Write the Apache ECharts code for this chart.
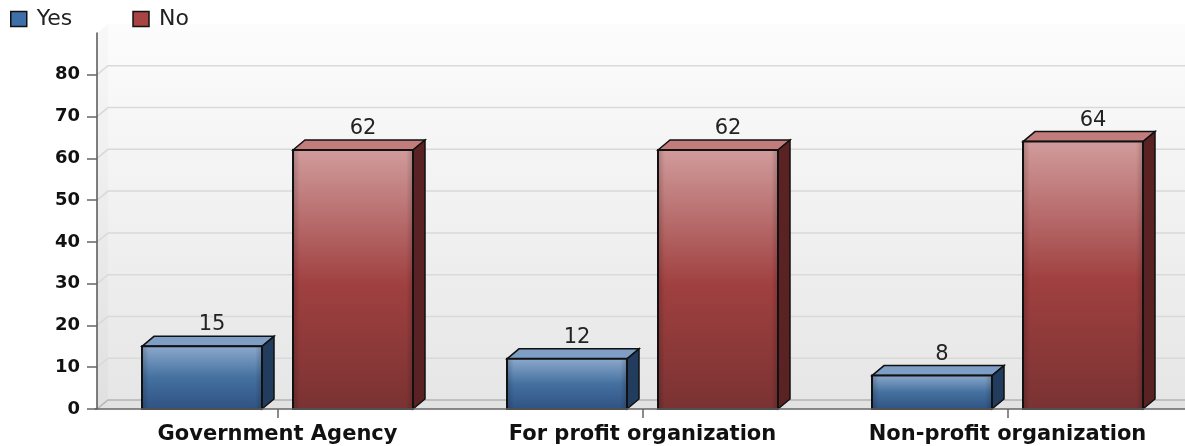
<!DOCTYPE html>
<html>
<head>
<meta charset="utf-8">
<style>html,body{margin:0;padding:0;background:#fff;overflow:hidden;width:1185px;height:446px}#chart{width:1190px;height:446px}</style>
<script src="https://cdn.jsdelivr.net/npm/echarts@6/dist/echarts.min.js"></script>
</head>
<body>
<div id="chart"></div>
<script>
var categories = ['Government Agency', 'For profit organization', 'Non-profit organization'];
var yesValues = [15, 12, 8];
var noValues = [62, 62, 64];
var yTicks = [0, 10, 20, 30, 40, 50, 60, 70, 80];

var DX = 11, DY = 9;      // wall depth
var BDX = 12, BDY = 10;   // bar depth
var BAR_W = 120 / 365;

var vgrad = function (stops) {
    return new echarts.graphic.LinearGradient(0, 0, 0, 1, stops.map(function (s) {
        return {offset: s[0], color: s[1]};
    }));
};

var renderWall = function (params, api) {
    var cs = params.coordSys;
    var x0 = cs.x + 2;
    var top = cs.y, bottom = cs.y + cs.height, right = cs.x + cs.width;
    return {
        type: 'group',
        children: [
            {type: 'rect', shape: {x: x0 + DX, y: top - DY, width: right - x0 - DX, height: cs.height},
                style: {fill: vgrad([[0, '#fcfcfc'], [1, '#e6e6e6']])}},
            {type: 'polygon', shape: {points: [[x0, top], [x0 + DX, top - DY], [x0 + DX, bottom - DY], [x0, bottom]]},
                style: {fill: vgrad([[0, '#f8f8f8'], [1, '#e0e0e0']])}},
            {type: 'polygon', shape: {points: [[x0, bottom], [x0 + DX, bottom - DY], [right, bottom - DY], [right, bottom]]},
                style: {fill: '#e2e2e2'}}
        ]
    };
};

var renderGridLine = function (params, api) {
    var cs = params.coordSys;
    var x0 = cs.x + 2;
    var y = api.coord([0, api.value(0)])[1];
    return {
        type: 'polyline',
        shape: {points: [[x0, y], [x0 + DX, y - DY], [cs.x + cs.width, y - DY]]},
        style: {fill: null, stroke: api.value(0) === 0 ? '#b4b4b4' : '#d9d9d9', lineWidth: 1.5}
    };
};

var makeBar = function (leftOff, colors) {
    return function (params, api) {
        var c = api.coord([api.value(0), api.value(1)]);
        var base = api.coord([api.value(0), 0]);
        var band = api.size([1, 0])[0];
        var w = band * BAR_W;
        var x = c[0] + band * leftOff;
        var y = c[1], h = base[1] - c[1];
        return {
            type: 'group',
            children: [
                {type: 'polygon', shape: {points: [[x, y], [x + BDX, y - BDY], [x + w + BDX, y - BDY], [x + w, y]]},
                    style: {fill: colors.top, stroke: '#111', lineWidth: 1.5}},
                {type: 'polygon', shape: {points: [[x + w, y], [x + w + BDX, y - BDY], [x + w + BDX, base[1] - BDY], [x + w, base[1]]]},
                    style: {fill: colors.side, stroke: '#111', lineWidth: 1.5}},
                {type: 'rect', shape: {x: x, y: y, width: w, height: h},
                    style: {fill: vgrad(colors.front), stroke: '#111', lineWidth: 2}},
                {type: 'rect', shape: {x: x + 1, y: y + 1, width: w - 2, height: h - 2},
                    style: {fill: new echarts.graphic.LinearGradient(0, 0, 1, 0, [
                        {offset: 0, color: 'rgba(0,0,0,0.16)'},
                        {offset: 0.05, color: 'rgba(0,0,0,0)'},
                        {offset: 0.95, color: 'rgba(0,0,0,0)'},
                        {offset: 1, color: 'rgba(0,0,0,0.16)'}
                    ])}},
                {type: 'text', x: x + w / 2 + BDX - 2, y: y - BDY - 1,
                    style: {text: String(api.value(1)), fill: '#222', font: '21px "DejaVu Sans"', align: 'center', verticalAlign: 'bottom'}}
            ]
        };
    };
};

var blue = {
    top: '#7e9ec6', side: '#223c5e',
    front: [[0, '#8eaacd'], [0.5, '#44709f'], [1, '#2f5282']]
};
var red = {
    top: '#c27c7c', side: '#5a2222',
    front: [[0, '#d19c9c'], [0.52, '#a04040'], [1, '#7a3232']]
};

var toPairs = function (vals) {
    return vals.map(function (v, i) { return [i, v]; });
};

var myChart = echarts.init(document.getElementById('chart'));
myChart.setOption({
    animation: false,
    grid: {left: 95, right: 0, top: 33, bottom: 37},
    legend: {
        left: 10, top: 8, padding: 0, itemWidth: 16, itemHeight: 15, itemGap: 60,
        selectedMode: false,
        textStyle: {fontFamily: 'DejaVu Sans', fontSize: 22, color: '#222', padding: [0, 0, 0, 5]},
        data: [
            {name: 'Yes', icon: 'rect', itemStyle: {color: '#3f6fa8', borderColor: '#111', borderWidth: 1.5}},
            {name: 'No', icon: 'rect', itemStyle: {color: '#a84444', borderColor: '#111', borderWidth: 1.5}}
        ]
    },
    xAxis: {
        type: 'category',
        data: categories,
        z: 5,
        axisLine: {lineStyle: {color: '#666', width: 1.5}},
        axisTick: {show: true, alignWithLabel: true, length: 9, lineStyle: {color: '#666', width: 1.5}},
        axisLabel: {margin: 15, color: '#111', fontFamily: 'DejaVu Sans', fontWeight: 'bold', fontSize: 21, interval: 0}
    },
    yAxis: {
        type: 'value',
        min: 0,
        max: 90,
        interval: 10,
        offset: -2,
        z: 5,
        splitLine: {show: false},
        axisLine: {show: true, lineStyle: {color: '#555', width: 1.5}},
        axisTick: {show: true, length: 10, customValues: yTicks, lineStyle: {color: '#666', width: 1.5}},
        axisLabel: {margin: 17, customValues: yTicks, color: '#111', fontFamily: 'DejaVu Sans', fontWeight: 'bold', fontSize: 18}
    },
    series: [
        {type: 'custom', name: 'wall', silent: true, z: 0, renderItem: renderWall, data: [[0, 0]], encode: {x: 0, y: 1}},
        {type: 'custom', name: 'grid', silent: true, z: 1, renderItem: renderGridLine,
            data: yTicks.map(function (t) { return [t]; }), encode: {y: 0}},
        {type: 'custom', name: 'Yes', z: 2, itemStyle: {color: '#3f6fa8'}, renderItem: makeBar(-135.5 / 365, blue),
            data: toPairs(yesValues), encode: {x: 0, y: 1}},
        {type: 'custom', name: 'No', z: 2, itemStyle: {color: '#a84444'}, renderItem: makeBar(15.5 / 365, red),
            data: toPairs(noValues), encode: {x: 0, y: 1}}
    ]
});
</script>
</body>
</html>
